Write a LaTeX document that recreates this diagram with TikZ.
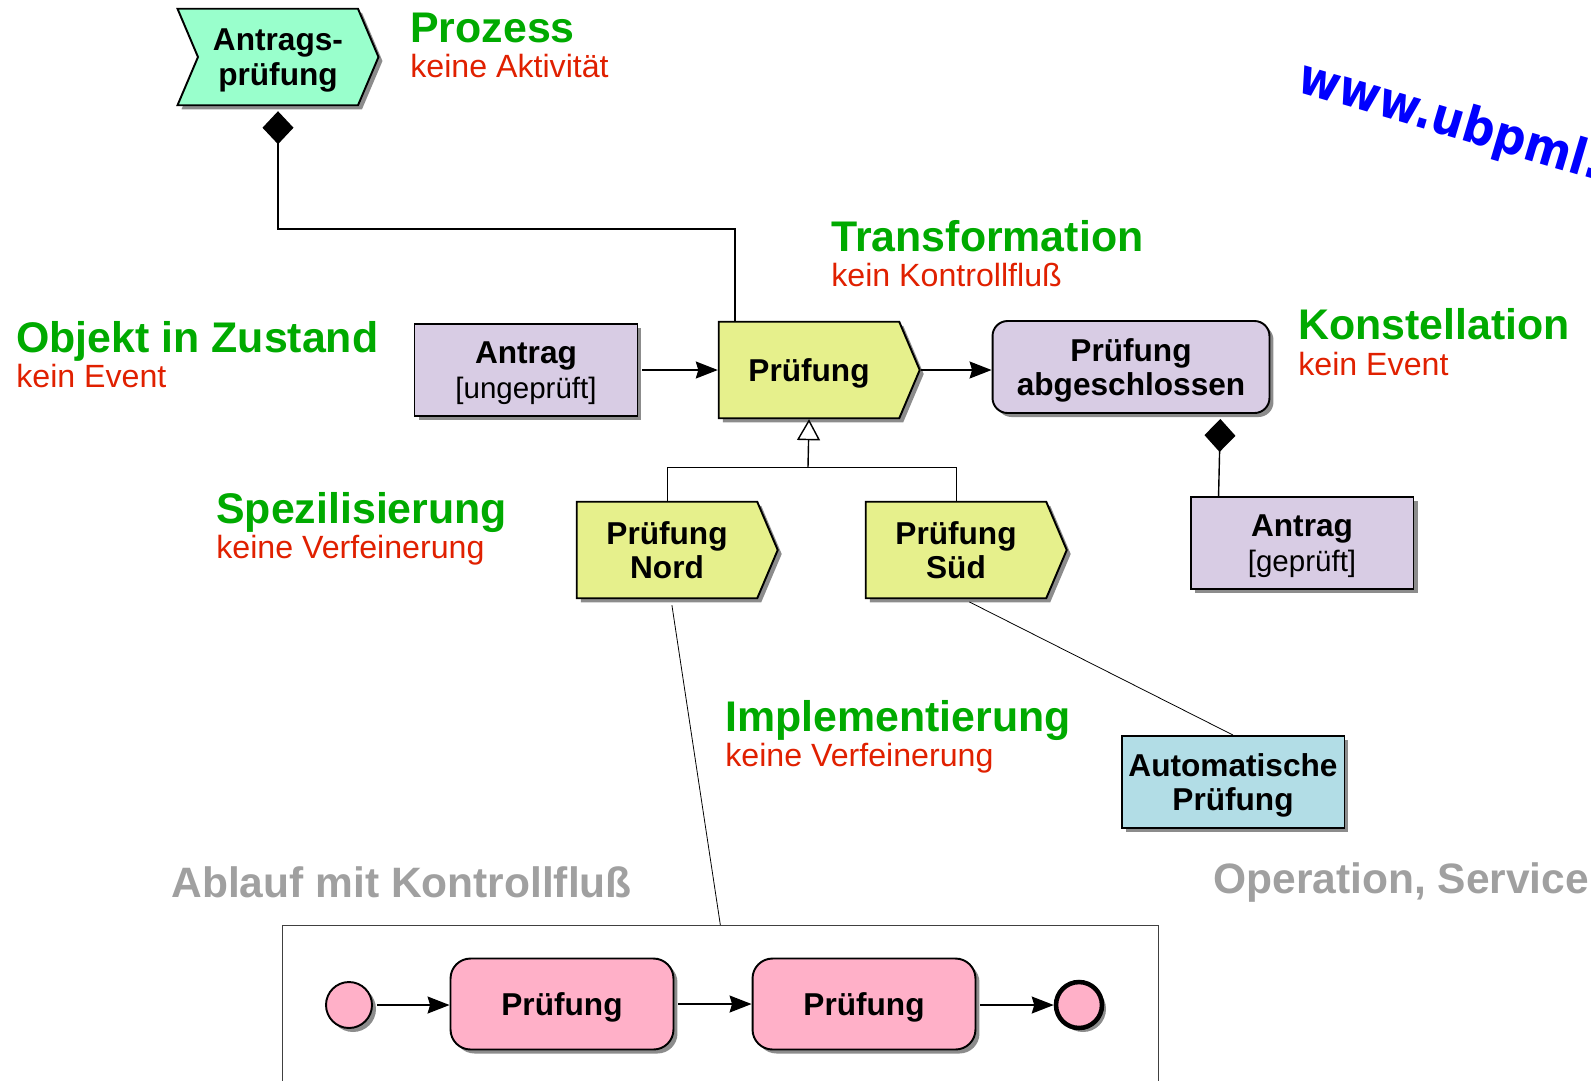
\documentclass[tikz,border=0pt]{standalone}
\usepackage{fontspec}
\setmainfont{Liberation Sans}
\newfontfamily\urlfont{DejaVu Sans}
\usepackage{tikz}
\usetikzlibrary{shapes.symbols,shadows,arrows.meta}

\definecolor{prozessgruen}{RGB}{153,255,204}
\definecolor{objektlila}{RGB}{216,204,228}
\definecolor{aktivgelb}{RGB}{230,240,140}
\definecolor{operblau}{RGB}{178,221,230}
\definecolor{ablaufrosa}{RGB}{255,176,200}
\definecolor{titelgruen}{RGB}{0,170,0}
\definecolor{hinweisrot}{RGB}{224,32,0}
\definecolor{ebenengrau}{RGB}{160,160,160}

\newcommand{\zustandstext}[1]{{\fontsize{16.8}{19.5}\selectfont\mdseries #1}}

\tikzset{
  schatten/.style={drop shadow={shadow xshift=0.08cm,shadow yshift=-0.08cm,fill=black!50,opacity=0.9}},
  knoten/.style={draw=black,line width=1.1pt,schatten,align=center,inner sep=2pt,text depth=0pt,
    font=\fontsize{18}{19.5}\selectfont\bfseries},
  objekt/.style={knoten,rectangle,fill=objektlila,minimum width=4.46cm,minimum height=1.84cm},
  zustand/.style={knoten,rectangle,rounded corners=0.3cm,fill=objektlila,minimum width=5.54cm,minimum height=1.84cm},
  aktivitaet/.style={knoten,signal,signal to=east,signal pointer angle=134,fill=aktivgelb,minimum width=4.02cm,minimum height=1.93cm},
  prozess/.style={aktivitaet,signal from=west,fill=prozessgruen},
  operation/.style={objekt,fill=operblau},
  schritt/.style={knoten,rectangle,rounded corners=0.4cm,fill=ablaufrosa,minimum width=4.46cm,minimum height=1.82cm},
  startpunkt/.style={circle,draw=black,line width=1.1pt,fill=ablaufrosa,minimum size=0.92cm,inner sep=0pt,schatten},
  endpunkt/.style={startpunkt,line width=2.6pt},
  rahmen/.style={rectangle,draw=black!75,line width=0.5pt,anchor=north west,minimum width=17.52cm,minimum height=5cm},
  titel/.style={anchor=base west,inner sep=0pt,text=titelgruen,font=\fontsize{24.4}{28}\selectfont\bfseries},
  hinweis/.style={anchor=base west,inner sep=0pt,text=hinweisrot,font=\fontsize{18.3}{21}\selectfont},
  ebene/.style={anchor=base west,inner sep=0pt,text=ebenengrau,font=\fontsize{24.2}{28}\selectfont\bfseries},
  fluss/.style={line width=0.9pt,-{Stealth[length=0.44cm,width=0.34cm,inset=0.05cm]}},
  komposition/.style={line width=0.8pt,shorten <=0.1cm,{Diamond[length=0.66cm,width=0.62cm]}-},
  generalisierung/.style={line width=0.8pt,-{Triangle[open,length=0.42cm,width=0.46cm]}},
  umsetzung/.style={line width=0.45pt,shorten <=0.12cm}
}

\begin{document}
\begin{tikzpicture}[x=0.02cm,y=-0.02cm]
\useasboundingbox (0,0) rectangle (1591,1080);
\clip (0,0) rectangle (1591,1080);
% Texte
\draw (410,42) node[titel] (ProzessT) {Prozess};
	\draw (410,77) node[hinweis] (ProzessH) {keine Aktivität};
\draw (831,251) node[titel] (TransT) {Transformation};
	\draw (831,286) node[hinweis] (TransH) {kein Kontrollfluß};
\draw (16,352) node[titel] (ObjektT) {Objekt in Zustand};
	\draw (16,387) node[hinweis] (ObjektH) {kein Event};
\draw (1298,339) node[titel] (KonstT) {Konstellation};
	\draw (1298,375) node[hinweis] (KonstH) {kein Event};
\draw (216,523) node[titel] (SpezT) {Spezilisierung};
	\draw (216,558) node[hinweis] (SpezH) {keine Verfeinerung};
\draw (725,731) node[titel] (ImplT) {Implementierung};
	\draw (725,766) node[hinweis] (ImplH) {keine Verfeinerung};
\draw (171,897) node[ebene] (AblaufT) {Ablauf mit Kontrollfluß};
\draw (1213,893) node[ebene] (OperT) {Operation, Service};
\draw (1295,91) node[anchor=base west,inner sep=0pt,rotate=-16.5,text=blue,
	font=\urlfont\fontsize{28.5}{32}\selectfont\bfseries] (Url) {\scalebox{0.9}[1]{www.ubpml.}};

% Knoten
\node[prozess] (Antragspruefung) at (278,57) {Antrags-\\prüfung};
\node[objekt] (Antrag1) at (526,370) {Antrag\\\zustandstext{[ungeprüft]}};
\node[aktivitaet] (Pruefung) at (809,370) {Prüfung};
\node[zustand] (Abgeschlossen) at (1131,367) {Prüfung\\abgeschlossen};
\node[aktivitaet] (Nord) at (667,550) {Prüfung\\Nord};
\node[aktivitaet] (Sued) at (956,550) {Prüfung\\Süd};
\node[objekt] (Antrag2) at (1302,543) {Antrag\\\zustandstext{[geprüft]}};
\node[operation] (Automatisch) at (1233,782) {Automatische\\Prüfung};
\node[rahmen] (Ablauf) at (282,925) {};
\node[startpunkt] (Start) at (349,1005) {};
\node[schritt] (Schritt1) at (562,1004) {Prüfung};
\node[schritt] (Schritt2) at (864,1004) {Prüfung};
\node[endpunkt] (Ende) at (1079,1005) {};

\coordinate (Knick) at (735,229);
\coordinate (Gabel) at (808,467);

% Verbindungen
\draw[komposition] (Antragspruefung.south) |- (Knick) -- (Knick |- Pruefung.north);
\draw[fluss,shorten <=0.08cm] (Antrag1.east) -- (Pruefung.west);
\draw[fluss] (Pruefung.east) -- (Pruefung.east -| Abgeschlossen.west);
\draw (Nord.north) |- (Gabel) -| (Sued.north);
\draw[generalisierung] (Gabel) -- (Pruefung.south);
\draw[komposition] ([xshift=-1cm]Abgeschlossen.south east) -- ([xshift=0.58cm]Antrag2.north west);
\draw[umsetzung] ([xshift=0.08cm]Nord.south) -- (Ablauf.north);
\draw[umsetzung] ([xshift=0.16cm]Sued.south) -- (Automatisch.north);
\draw[fluss,shorten <=0.08cm] (Start.east) -- (Start.east -| Schritt1.west);
\draw[fluss,shorten <=0.08cm] (Schritt1.east) -- (Schritt1.east -| Schritt2.west);
\draw[fluss,shorten <=0.08cm] (Schritt2.east |- Ende.west) -- (Ende.west);
\end{tikzpicture}
\end{document}
